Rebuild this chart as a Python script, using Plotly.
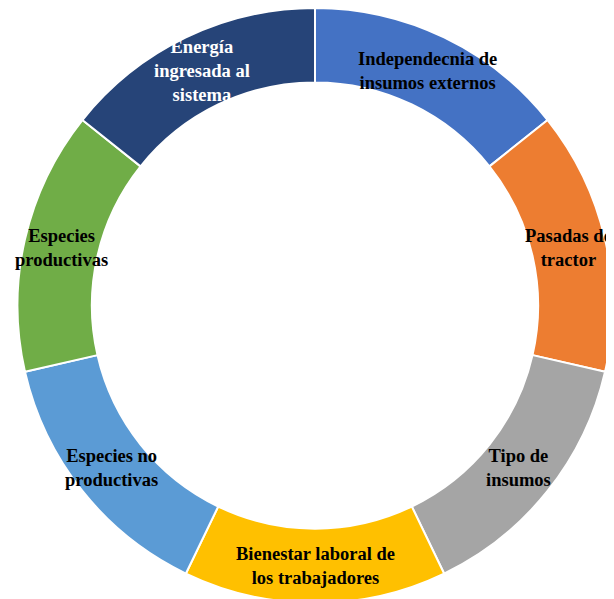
import math
import plotly.graph_objects as go

labels = [
    "Independecnia de<br>insumos externos",
    "Pasadas de<br>tractor",
    "Tipo de<br>insumos",
    "Bienestar laboral de<br>los trabajadores",
    "Especies no<br>productivas",
    "Especies<br>productivas",
    "Energía<br>ingresada al<br>sistema",
]
values = [1, 1, 1, 1, 1, 1, 1]
colors = ["#4472C4", "#ED7D31", "#A5A5A5", "#FFC000", "#5B9BD5", "#70AD47", "#264478"]
text_colors = ["black", "black", "black", "black", "black", "black", "white"]

W, H = 614, 599
ml, mr, mt, mb = 7, 7, 0, 4
hole = 0.75

fig = go.Figure(go.Pie(
    labels=labels,
    values=values,
    sort=False,
    direction="clockwise",
    rotation=0,
    hole=hole,
    marker=dict(colors=colors, line=dict(color="white", width=2)),
    textinfo="none",
    hoverinfo="skip",
    showlegend=False,
))

pw, ph = W - ml - mr, H - mt - mb
R = min(pw, ph) / 2.0
rmid = R * (1 + hole) / 2.0
total = sum(values)
cum = 0
annotations = []
for lab, v, tc in zip(labels, values, text_colors):
    mid = (cum + v / 2.0) / total * 2 * math.pi
    cum += v
    dx = rmid * math.sin(mid)
    dy = rmid * math.cos(mid)
    annotations.append(dict(
        x=0.5 + dx / pw, y=0.5 + dy / ph, xref="paper", yref="paper",
        text=lab, showarrow=False, xanchor="center", yanchor="middle",
        font=dict(family="Liberation Serif", size=18.5, color=tc, weight="bold"),
    ))

fig.update_layout(
    width=W, height=H,
    margin=dict(l=ml, r=mr, t=mt, b=mb),
    paper_bgcolor="white", plot_bgcolor="white",
    annotations=annotations,
)
fig.write_html("out.html")
